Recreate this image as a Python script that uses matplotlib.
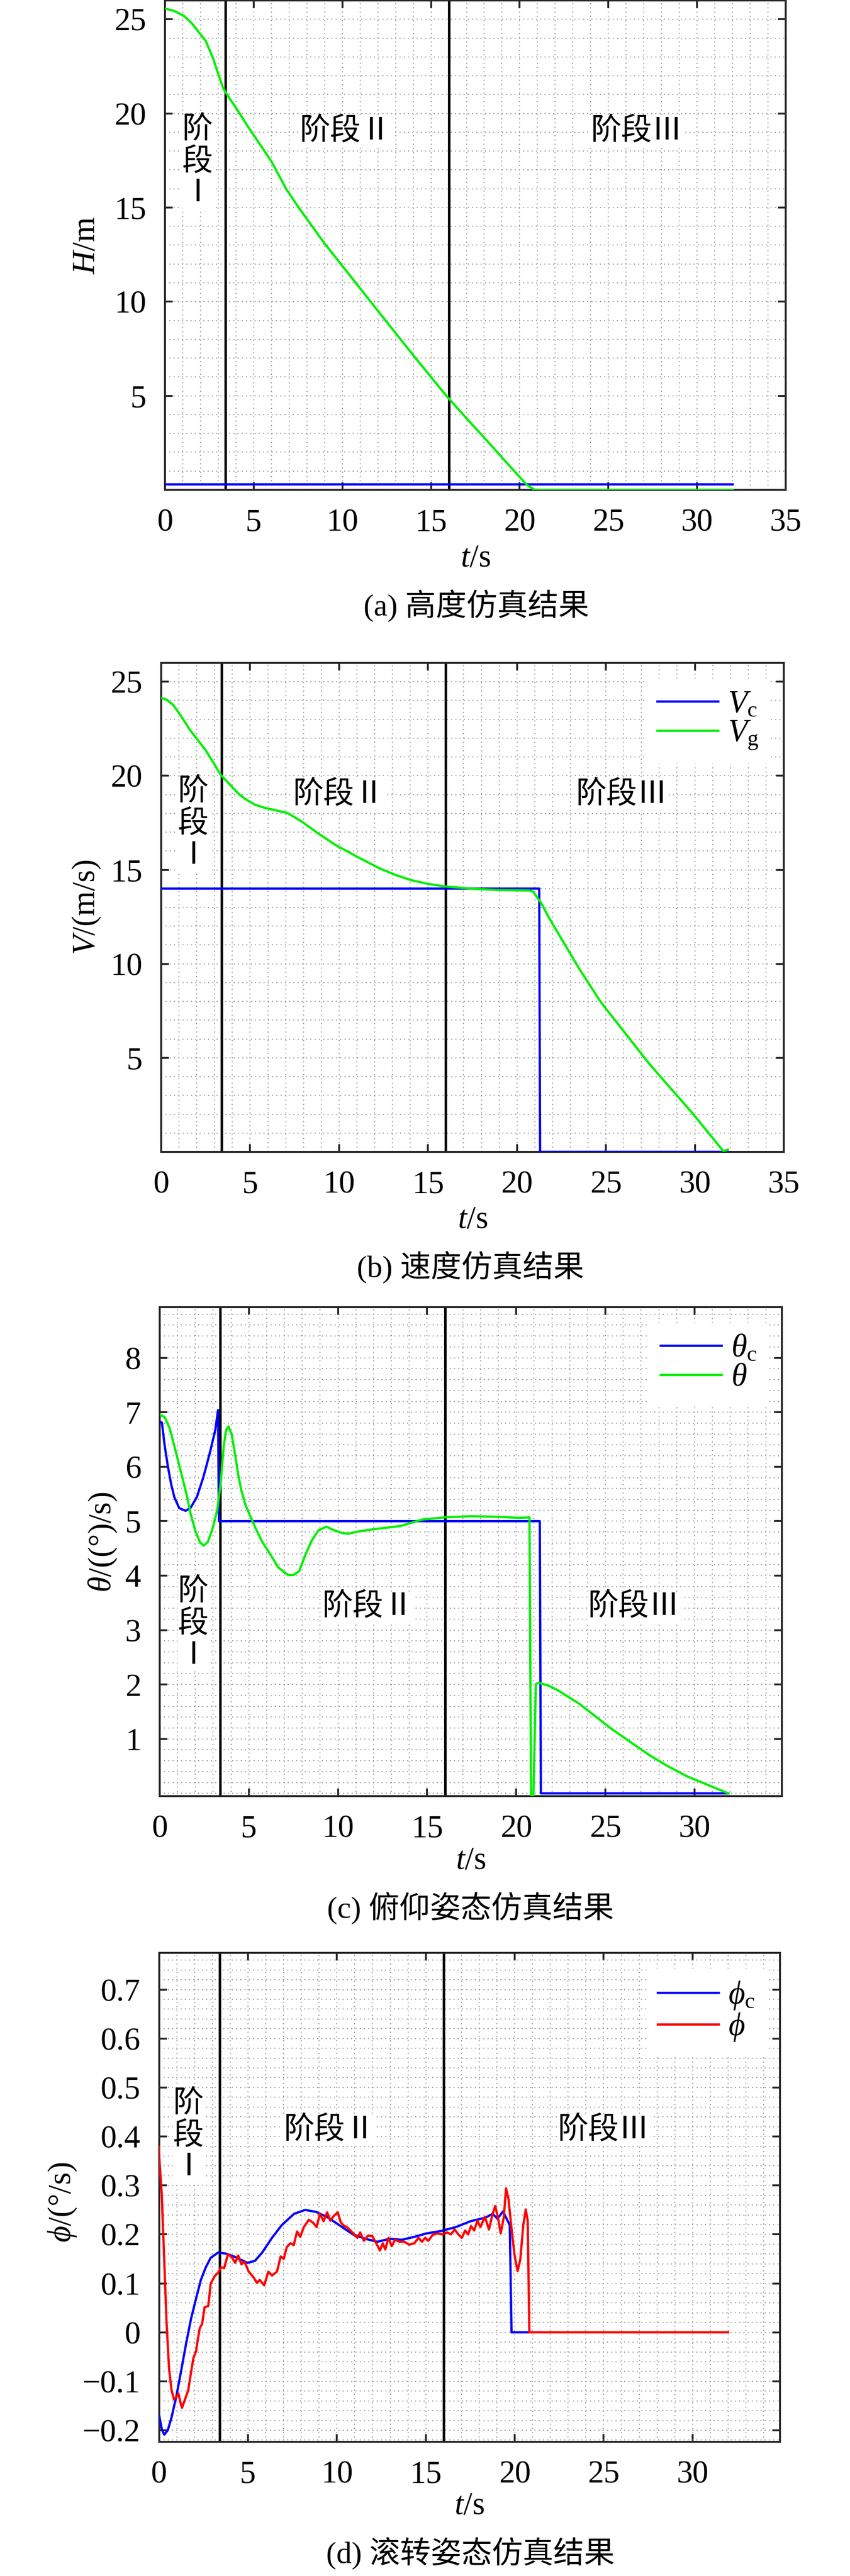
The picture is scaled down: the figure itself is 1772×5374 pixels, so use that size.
import matplotlib
matplotlib.use("Agg")
import matplotlib.pyplot as plt
from matplotlib.ticker import MultipleLocator, FixedLocator

plt.rcParams['font.family'] = ['Liberation Serif', 'Noto Sans CJK SC', 'DejaVu Sans']
plt.rcParams['mathtext.fontset'] = 'custom'
plt.rcParams['mathtext.rm'] = 'Liberation Serif'
plt.rcParams['mathtext.it'] = 'Liberation Serif:italic'
plt.rcParams['mathtext.bf'] = 'Liberation Serif:bold'
plt.rcParams['axes.unicode_minus'] = True

# ---------------- data ----------------
# (a) height
t_H = [0, 0.5, 1.07, 1.5, 2.0, 2.29, 2.7, 3.0, 3.28, 3.6, 4.0, 4.71, 5.5, 6.0, 6.85, 7.5,
       8.98, 10.0, 12.02, 14.0, 15.87, 17.0, 18.1, 19.5, 20.4, 20.85, 32.0]
H_g = [25.57, 25.45, 25.18, 24.8, 24.2, 23.86, 22.95, 22.1, 21.34, 20.85, 20.3, 19.25, 18.15,
       17.45, 15.96, 15.05, 13.11, 11.9, 9.49, 7.15, 4.99, 3.8, 2.67, 1.2, 0.27, 0.0, 0.0]
t_Hc = [0, 32.0]
H_c = [0.3, 0.3]

# (b) velocity
t_Vc = [0, 21.25, 21.3, 31.85]
V_c = [14.0, 14.0, 0.0, 0.0]
t_Vg = [0, 0.3, 0.67, 1.1, 1.6, 2.5, 3.0, 3.35, 3.7, 4.0, 4.4, 4.78, 5.3, 5.84, 6.5, 7.06,
        7.5, 7.97, 8.8, 9.8, 11.0, 12.2, 13.1, 14.05, 15.0, 15.9, 17.4, 19.0, 20.7, 20.9,
        21.35, 21.8, 22.26, 23.5, 24.7, 27.43, 29.86, 31.6, 31.85]
V_g = [24.14, 24.05, 23.77, 23.2, 22.46, 21.36, 20.6, 20.04, 19.7, 19.39, 19.0, 18.73, 18.45,
       18.29, 18.15, 18.03, 17.8, 17.52, 16.95, 16.32, 15.7, 15.11, 14.75, 14.45, 14.25,
       14.12, 14.0, 13.92, 13.9, 13.85, 13.25, 12.45, 11.71, 9.74, 7.98, 4.69, 2.06, 0.04, 0.12]

# (c) pitch
t_thc = [0.0, 0.12, 0.28, 0.46, 0.64, 0.82, 1.09, 1.45, 1.72, 2.08, 2.44, 2.8, 3.12, 3.27,
         3.32, 21.32, 21.38, 31.9]
th_c = [6.83, 6.81, 6.38, 6.0, 5.68, 5.44, 5.24, 5.19, 5.24, 5.44, 5.80, 6.24, 6.68, 7.04,
        5.0, 5.0, 0.0, 0.0]
t_th = [0.0, 0.1, 0.28, 0.55, 0.82, 1.09, 1.36, 1.54, 1.72, 1.99, 2.26, 2.46, 2.7, 2.96,
        3.23, 3.41, 3.59, 3.73, 3.86, 4.04, 4.22, 4.4, 4.58, 4.81, 5.08, 5.39, 5.75, 6.2,
        6.65, 6.92, 7.2, 7.5, 7.82, 8.18, 8.54, 8.9, 9.35, 9.8, 10.25, 10.6, 11.14, 11.95,
        13.5, 14.73, 16.0, 17.46, 18.98, 20.2, 20.74, 20.83, 20.96, 21.1, 21.26, 21.8,
        22.3, 23.56, 25.36, 27.48, 28.5, 29.6, 31.9]
th = [6.96, 6.94, 6.91, 6.71, 6.38, 6.03, 5.68, 5.44, 5.15, 4.83, 4.61, 4.55, 4.62, 4.86,
      5.21, 5.68, 6.38, 6.68, 6.74, 6.59, 6.24, 5.86, 5.56, 5.30, 5.09, 4.86, 4.62, 4.39,
      4.15, 4.08, 4.01, 4.01, 4.08, 4.39, 4.65, 4.83, 4.90, 4.83, 4.78, 4.77, 4.81, 4.85,
      4.91, 5.03, 5.07, 5.09, 5.08, 5.06, 5.07, -0.05, -0.05, 2.01, 2.03, 1.98, 1.9, 1.64,
      1.18, 0.7, 0.5, 0.31, 0.0]

# (d) roll
t_phc = [0.0, 0.15, 0.29, 0.49, 0.7, 0.98, 1.25, 1.53, 1.8, 2.08, 2.35, 2.63, 2.9, 3.32,
         3.73, 4.28, 4.97, 5.39, 5.8, 6.35, 6.9, 7.59, 8.21, 8.83, 9.52, 10.21, 10.9, 11.6,
         12.28, 12.97, 13.66, 14.35, 15.04, 15.86, 16.69, 17.52, 18.34, 18.76, 19.03, 19.34,
         19.72, 19.82, 20.83]
ph_c = [-0.1685, -0.197, -0.209, -0.2, -0.174, -0.129, -0.077, -0.021, 0.028, 0.069, 0.107,
        0.133, 0.152, 0.163, 0.161, 0.154, 0.142, 0.146, 0.163, 0.193, 0.219, 0.242, 0.25,
        0.246, 0.234, 0.217, 0.2, 0.191, 0.185, 0.191, 0.189, 0.195, 0.202, 0.207, 0.215,
        0.227, 0.234, 0.242, 0.232, 0.247, 0.219, 0.0, 0.0]
t_ph = [0.0, 0.01, 0.15, 0.29, 0.42, 0.56, 0.7, 0.84, 0.98, 1.09, 1.18, 1.29, 1.46, 1.64,
        1.8, 1.94, 2.08, 2.15, 2.29, 2.42, 2.56, 2.77, 2.9, 3.11, 3.32, 3.49, 3.66, 3.87,
        4.08, 4.28, 4.45, 4.63, 4.81, 5.04, 5.32, 5.5, 5.66, 5.91, 6.15, 6.35, 6.63, 6.84,
        7.01, 7.18, 7.39, 7.57, 7.76, 7.94, 8.14, 8.42, 8.69, 8.86, 9.04, 9.25, 9.45, 9.63,
        9.83, 10.05, 10.21, 10.38, 10.56, 10.76, 10.97, 11.15, 11.31, 11.52, 11.73, 11.98,
        12.21, 12.42, 12.58, 12.72, 12.9, 13.08, 13.27, 13.52, 13.79, 14.07, 14.35, 14.59,
        14.78, 14.96, 15.14, 15.38, 15.65, 15.93, 16.2, 16.41, 16.62, 16.83, 17.03, 17.21,
        17.38, 17.54, 17.72, 17.9, 18.07, 18.32, 18.55, 18.73, 18.9, 19.06, 19.21, 19.38,
        19.51, 19.65, 19.83, 20.0, 20.16, 20.31, 20.48, 20.62, 20.73, 20.82, 32.0]
ph = [0.379, 0.358, 0.283, 0.148, 0.021, -0.073, -0.118, -0.137, -0.131, -0.125, -0.14,
      -0.154, -0.137, -0.118, -0.081, -0.051, -0.039, -0.021, 0.009, 0.017, 0.051, 0.054,
      0.099, 0.114, 0.122, 0.133, 0.131, 0.159, 0.154, 0.142, 0.157, 0.139, 0.144, 0.124,
      0.112, 0.101, 0.107, 0.096, 0.124, 0.116, 0.124, 0.155, 0.15, 0.174, 0.182, 0.178,
      0.206, 0.195, 0.215, 0.23, 0.223, 0.215, 0.242, 0.227, 0.245, 0.228, 0.238, 0.245,
      0.225, 0.218, 0.215, 0.208, 0.2, 0.193, 0.204, 0.187, 0.197, 0.197, 0.182, 0.167,
      0.182, 0.169, 0.193, 0.176, 0.189, 0.185, 0.185, 0.179, 0.182, 0.193, 0.185, 0.193,
      0.187, 0.199, 0.202, 0.2, 0.204, 0.2, 0.21, 0.2, 0.193, 0.208, 0.2, 0.217, 0.208,
      0.228, 0.215, 0.236, 0.21, 0.238, 0.258, 0.234, 0.202, 0.234, 0.294, 0.272, 0.208,
      0.155, 0.125, 0.148, 0.219, 0.251, 0.227, 0.0, 0.0]

stage_lines = [3.4, 16.0]
stage_labels = ['阶\n段\nⅠ', '阶段Ⅱ', '阶段Ⅲ']
captions = ['(a) 高度仿真结果', '(b) 速度仿真结果', '(c) 俯仰姿态仿真结果', '(d) 滚转姿态仿真结果']

# ---------------- layout ----------------
W, Hpx = 1772, 5374
fig = plt.figure(figsize=(W / 100, Hpx / 100), dpi=100)

def add_ax(l, r, t, b):
    return fig.add_axes([l / W, 1 - b / Hpx, (r - l) / W, (b - t) / Hpx])

FS = 46
FN = 48
BLUE = '#0000ff'
GREEN = '#00f000'
RED = '#ff0000'
LW = 3.4

def style(ax, xlim, xt, ylim, yt, xminor, yminor):
    ax.set_xlim(*xlim)
    ax.set_ylim(*ylim)
    ax.xaxis.set_major_locator(FixedLocator(xt))
    ax.yaxis.set_major_locator(FixedLocator(yt))
    ax.xaxis.set_minor_locator(MultipleLocator(xminor))
    ax.yaxis.set_minor_locator(MultipleLocator(yminor))
    ax.grid(True, which='both', linestyle=(0, (1, 3)), color='#9a9a9a', linewidth=1.6)
    ax.set_axisbelow(True)
    ax.tick_params(which='major', direction='in', top=True, right=True, length=11.5,
                   width=2.8, color='#262626', labelsize=FN, pad=28)
    ax.tick_params(which='minor', length=0)
    for s in ax.spines.values():
        s.set_linewidth(2.9)
        s.set_color('#262626')
    for x in stage_lines:
        ax.axvline(x, color='black', linewidth=3.8, zorder=2)

def stage_text(ax, p1, p2, p3):
    bb = dict(facecolor='white', edgecolor='none', pad=1)
    ax.text(p1[0], p1[1], stage_labels[0], fontsize=FS, ha='center', va='center',
            linespacing=1.15, bbox=bb, zorder=3)
    ax.text(p2[0], p2[1], stage_labels[1], fontsize=FS, ha='center', va='center', bbox=bb, zorder=3)
    ax.text(p3[0], p3[1], stage_labels[2], fontsize=FS, ha='center', va='center', bbox=bb, zorder=3)

def labels(ax, xl, yl, xly, ylx, yly=0.5):
    ax.set_xlabel(xl, fontsize=FN, va='center')
    ax.set_ylabel(yl, fontsize=FN, va='center')
    ax.xaxis.set_label_coords(0.5, xly)
    ax.yaxis.set_label_coords(ylx, yly)

def legend(ax):
    lg = ax.legend(loc='upper right', bbox_to_anchor=(0.978, 0.968), borderaxespad=0,
                   fontsize=FN, handlelength=1.9, handletextpad=0.3, labelspacing=0.0,
                   frameon=True, fancybox=False, borderpad=0.35)
    lg.get_frame().set_facecolor('white')
    lg.get_frame().set_edgecolor('white')
    lg.get_frame().set_alpha(1)
    lg.set_zorder(5)

# (a)
ax = add_ax(344, 1638, 1, 1022)
style(ax, (0, 35), range(0, 36, 5), (0, 26), [5, 10, 15, 20, 25], 1, 1)
ax.plot(t_Hc, H_c, color=BLUE, lw=LW, zorder=4)
ax.plot(t_H, H_g, color=GREEN, lw=LW, zorder=4)
stage_text(ax, (1.83, 17.4), (10.2, 19.0), (26.6, 19.0))
labels(ax, r'$t$/s', r'$H$/m', -0.14, -0.127)
fig.text(993 / W, 1 - 1264 / Hpx, captions[0], fontsize=FS, ha='center', va='center')

# (b)
ax = add_ax(336, 1634, 1383, 2403)
style(ax, (0, 35), range(0, 36, 5), (0, 26), [5, 10, 15, 20, 25], 1, 1)
ax.plot(t_Vc, V_c, color=BLUE, lw=LW, zorder=4, label=r'$V_{\rm c}$')
ax.plot(t_Vg, V_g, color=GREEN, lw=LW, zorder=4, label=r'$V_{\rm g}$')
stage_text(ax, (1.8, 17.4), (10.0, 18.95), (25.9, 18.95))
labels(ax, r'$t$/s', r'$V$/(m/s)', -0.139, -0.12)
legend(ax)
fig.text(981 / W, 1 - 2644 / Hpx, captions[1], fontsize=FS, ha='center', va='center')

# (c)
ax = add_ax(333, 1630, 2727, 3747)
style(ax, (0, 34.9), range(0, 31, 5), (-0.05, 8.93), [1, 2, 3, 4, 5, 6, 7, 8], 1, 0.2)
ax.plot(t_thc, th_c, color=BLUE, lw=LW, zorder=4, label=r'$\theta_{\rm c}$')
ax.plot(t_th, th, color=GREEN, lw=LW, zorder=4, label=r'$\theta$')
stage_text(ax, (1.88, 3.1), (11.7, 3.41), (26.6, 3.41))
labels(ax, r'$t$/s', r'$\theta$/((°)/s)', -0.132, -0.092, 0.52)
legend(ax)
fig.text(981 / W, 1 - 3981 / Hpx, captions[2], fontsize=FS, ha='center', va='center')

# (d)
ax = add_ax(331.6, 1625.5, 4074, 5094)
style(ax, (0, 34.9), range(0, 31, 5), (-0.2235, 0.775),
      [-0.2, -0.1, 0, 0.1, 0.2, 0.3, 0.4, 0.5, 0.6, 0.7], 1, 0.02)
ax.set_yticklabels(['\u22120.2', '\u22120.1', '0', '0.1', '0.2', '0.3', '0.4', '0.5', '0.6', '0.7'])
ax.plot(t_phc, ph_c, color=BLUE, lw=LW, zorder=4, label=r'$\phi_{\rm c}$')
ax.plot(t_ph, ph, color=RED, lw=LW, zorder=4, label=r'$\phi$')
stage_text(ax, (1.65, 0.40), (9.6, 0.411), (25.0, 0.411))
labels(ax, r'$t$/s', r'$\phi$/(°/s)', -0.131, -0.156, 0.49)
legend(ax)
fig.text(981 / W, 1 - 5327 / Hpx, captions[3], fontsize=FS, ha='center', va='center')

fig.savefig('out.png', dpi=100, facecolor='white')
